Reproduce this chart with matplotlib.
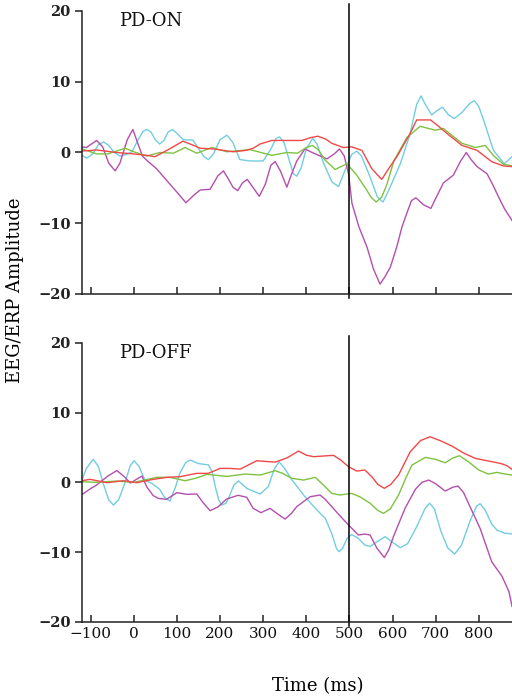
import matplotlib
matplotlib.use('Agg')
import matplotlib.pyplot as plt

plt.rcParams['font.family'] = ['DejaVu Serif']

RED = '#f04848'
GREEN = '#7fc241'
CYAN = '#72cde0'
MAGENTA = '#b44fae'

# ---- PD-ON panel ----
on_red_t = [-120, -86, -40, -1, 30, 49, 80, 114, 135, 154, 185, 231, 260, 277, 293, 320, 390, 410, 427,
            445, 459, 486, 505, 529, 552, 575, 592, 610, 641, 656, 688, 705, 722, 761, 796, 830, 857, 877]
on_red_v = [0.2, 0.35, 0.0, -0.2, -0.4, -0.6, 0.4, 1.6, 1.1, 0.6, 0.5, 0.1, 0.3, 0.6, 1.2, 1.7, 1.7, 2.1, 2.3,
            1.9, 1.3, 0.7, 0.8, 0.3, -2.3, -3.8, -2.2, -0.6, 2.7, 4.6, 4.6, 3.8, 2.9, 1.0, 0.3, -1.3, -1.9, -2.0]

on_green_t = [-120, -105, -86, -60, -35, -20, 0, 30, 61, 92, 119, 146, 181, 216, 270, 320, 355, 380, 400,
              414, 428, 444, 467, 494, 517, 537, 550, 562, 575, 587, 603, 633, 664, 699, 718, 740, 761, 792,
              815, 835, 857, 877]
on_green_v = [0.5, 0.2, -0.2, -0.2, 0.3, 0.6, 0.1, -0.5, 0.0, -0.1, 0.7, -0.1, 0.7, 0.1, 0.4, -0.4, 0.0, -0.1, 0.7,
              1.0, 0.4, -1.1, -2.4, -1.6, -3.2, -5.0, -6.3, -7.0, -6.3, -4.5, -1.2, 2.1, 3.7, 3.15, 3.4, 2.3, 1.3, 0.7,
              1.0, -0.5, -1.65, -1.9]

on_cyan_t = [-120, -109, -95, -82, -70, -58, -45, -32, -18, -4, 10, 22, 30, 40, 50, 60, 70, 80, 90, 102, 115,
             137, 150, 163, 173, 185, 200, 216, 230, 246, 270, 300, 318, 330, 338, 348, 360, 370, 378, 388, 400,
             415, 425, 440, 460, 475, 490, 505, 517, 528, 545, 565, 578, 590, 618, 640, 656, 666, 676, 691, 703,
             716, 730, 743, 760, 780, 790, 800, 811, 834, 859, 877]
on_cyan_v = [-0.4, -0.8, -0.2, 1.1, 1.5, 1.0, 0.0, -0.5, -0.3, 0.1, 1.8, 3.0, 3.25, 2.9, 1.8, 1.2, 1.7, 2.9, 3.25,
             2.6, 1.8, 1.75, 0.6, -0.6, -1.0, -0.2, 1.8, 2.45, 1.4, -1.0, -1.2, -1.2, 0.5, 2.0, 2.2, 1.5, -1.0,
             -3.0, -3.35, -2.2, 0.5, 2.0, 1.2, -1.5, -4.2, -4.8, -2.5, -0.3, 0.2, -0.5, -3.0, -6.3, -7.0, -5.5,
             -1.6, 2.5, 6.8, 8.0, 6.8, 5.3, 5.9, 6.4, 5.3, 4.8, 5.6, 7.0, 7.3, 6.5, 4.6, 0.3, -1.6, -0.6]

on_mag_t = [-120, -110, -86, -72, -58, -43, -32, -15, -2, 10, 20, 30, 53, 80, 100, 121, 140, 154, 177, 195,
            208, 218, 230, 241, 252, 263, 275, 291, 305, 318, 328, 340, 355, 365, 378, 397, 417, 448, 465, 477,
            488, 498, 506, 522, 541, 556, 571, 582, 595, 610, 622, 633, 644, 654, 672, 689, 700, 718, 741, 758,
            771, 782, 796, 819, 832, 846, 860, 877]
on_mag_v = [0.8, 0.7, 1.7, 0.8, -1.5, -2.6, -1.5, 1.8, 3.25, 1.2, -0.5, -1.1, -2.3, -4.2, -5.6, -7.1, -6.0, -5.3,
            -5.2, -3.3, -2.6, -3.6, -4.9, -5.4, -4.3, -3.8, -4.8, -6.2, -4.5, -1.8, -1.3, -2.6, -4.9, -3.2, -1.2,
            0.5, -0.1, -0.9, -0.2, 0.5, -0.5, -3.0, -7.2, -10.5, -13.4, -16.5, -18.6, -17.6, -16.2, -13.3, -10.5,
            -8.6, -6.8, -6.4, -7.4, -7.9, -6.5, -4.3, -3.2, -1.2, 0.0, -1.0, -2.0, -3.0, -4.5, -6.3, -8.0, -9.6]

# ---- PD-OFF panel ----
off_red_t = [-121, -101, -62, -24, 7, 45, 77, 107, 146, 173, 200, 223, 247, 285, 328, 355, 382, 400, 417, 463,
             480, 498, 517, 536, 552, 566, 581, 596, 614, 641, 665, 687, 710, 738, 765, 792, 850, 865, 877]
off_red_v = [0.23, 0.43, -0.05, 0.23, -0.05, 0.43, 0.72, 0.81, 1.29, 1.29, 2.0, 2.0, 1.9, 3.1, 2.9, 3.5, 4.49, 3.9,
             3.68, 3.88, 3.2, 2.24, 1.62, 1.77, 0.81, -0.3, -0.86, -0.3, 1.05, 4.39, 6.0, 6.54, 6.0, 5.2, 4.2, 3.44,
             2.72, 2.4, 1.86]

off_green_t = [-121, -86, -39, 1, 30, 53, 84, 119, 145, 169, 216, 258, 293, 328, 345, 367, 394, 421, 440, 459,
               478, 505, 525, 548, 565, 579, 595, 614, 630, 645, 676, 700, 722, 740, 755, 775, 800, 822, 842,
               860, 877]
off_green_v = [0.09, 0.0, 0.19, 0.0, 0.4, 0.72, 0.72, 0.23, 0.6, 1.15, 0.85, 1.19, 1.05, 1.67, 1.3, 0.57, 0.33,
               0.72, -0.4, -1.58, -1.82, -1.58, -2.1, -3.0, -4.0, -4.45, -3.8, -1.82, 0.5, 2.48, 3.58, 3.3, 2.81,
               3.5, 3.82, 3.0, 1.77, 1.19, 1.43, 1.2, 1.05]

off_cyan_t = [-121, -110, -94, -82, -70, -58, -47, -35, -20, -8, 1, 12, 26, 42, 60, 72, 84, 96, 107, 120, 131,
              142, 150, 173, 182, 189, 197, 204, 214, 223, 232, 243, 262, 293, 312, 325, 337, 350, 367, 397, 421,
              444, 460, 470, 476, 484, 495, 505, 520, 536, 548, 562, 583, 600, 618, 635, 655, 675, 686, 697, 712,
              728, 744, 760, 780, 795, 803, 815, 830, 842, 860, 877]
off_cyan_v = [0.1, 2.0, 3.3, 2.3, -0.3, -2.5, -3.26, -2.5, 0.0, 2.4, 3.1, 2.3, 0.33, -0.14, -1.0, -2.2, -2.7,
              -0.8, 1.3, 2.8, 3.2, 2.9, 2.7, 2.5, 1.5, -0.6, -2.5, -3.26, -3.0, -1.8, -0.4, 0.2, -0.86, -1.68,
              -0.62, 1.8, 2.96, 2.0, 0.33, -2.06, -3.73, -5.17, -7.5, -9.5, -9.95, -9.5, -8.0, -7.5, -8.0, -9.0,
              -9.2, -8.6, -7.8, -8.6, -9.38, -8.8, -6.5, -3.8, -3.0, -3.8, -7.0, -9.4, -10.3, -9.0, -5.5, -3.4,
              -3.06, -4.0, -6.0, -6.84, -7.3, -7.4]

off_mag_t = [-121, -100, -86, -60, -39, -20, -8, 19, 30, 45, 57, 76, 100, 123, 146, 162, 177, 196, 215, 242,
             262, 277, 295, 316, 335, 351, 365, 378, 409, 432, 444, 475, 498, 521, 536, 548, 564, 581, 592, 602,
             629, 653, 668, 684, 700, 722, 740, 752, 765, 776, 803, 830, 854, 870, 877]
off_mag_v = [-1.8, -0.9, -0.38, 0.9, 1.7, 0.7, -0.1, 0.9, -0.62, -1.9, -2.3, -2.44, -1.48, -1.72, -1.67, -3.0,
             -4.07, -3.5, -2.4, -1.86, -2.15, -3.73, -4.35, -3.73, -4.6, -5.27, -4.5, -3.49, -2.06, -1.82, -2.44,
             -4.59, -6.13, -7.56, -7.42, -7.56, -9.47, -10.8, -9.6, -7.8, -3.73, -1.0, 0.0, 0.33, -0.2, -1.25,
             -0.7, -0.53, -1.5, -3.0, -6.6, -11.4, -13.5, -15.7, -17.8]

x_ticks = [-100, 0, 100, 200, 300, 400, 500, 600, 700, 800]
y_ticks = [-20, -10, 0, 10, 20]

fig = plt.figure(figsize=(5.12, 6.99), dpi=100)
ax1 = fig.add_axes([0.1596, 0.5794, 0.8404, 0.4049])
ax2 = fig.add_axes([0.1596, 0.1106, 0.8404, 0.3987])

panels = [
    (ax1, 'PD-ON', on_cyan_t, on_cyan_v, on_mag_t, on_mag_v, on_green_t, on_green_v, on_red_t, on_red_v),
    (ax2, 'PD-OFF', off_cyan_t, off_cyan_v, off_mag_t, off_mag_v, off_green_t, off_green_v, off_red_t, off_red_v),
]

for ax, name, ct, cv, mt, mv, gt, gv, rt, rv in panels:
    ax.plot(ct, cv, color=CYAN, lw=1.0)
    ax.plot(mt, mv, color=MAGENTA, lw=1.0)
    ax.plot(gt, gv, color=GREEN, lw=1.0)
    ax.plot(rt, rv, color=RED, lw=1.0)
    ax.axvline(500, ymin=-0.014, ymax=1.025, color='black', lw=1.1, clip_on=False)
    ax.set_xlim(-120.6, 877)
    ax.set_ylim(-20, 20)
    ax.set_xticks(x_ticks)
    ax.set_yticks(y_ticks)
    ax.spines['top'].set_visible(False)
    ax.spines['right'].set_visible(False)
    ax.spines['left'].set_linewidth(1.1)
    ax.spines['bottom'].set_linewidth(1.1)
    ax.spines['left'].set_color('#222222')
    ax.spines['bottom'].set_color('#222222')
    ax.tick_params(axis='x', direction='in', length=5, width=1.1, colors='#222222', labelsize=11, pad=4)
    ax.tick_params(axis='y', direction='out', length=5, width=1.1, colors='#222222', labelsize=10.5, pad=3)
    for lab in ax.get_yticklabels():
        lab.set_fontweight('bold')
    ax.text(-33, 18.6, name, fontsize=13, va='center', ha='left', color='#111111')

ax1.tick_params(axis='x', labelbottom=False)
for lab in ax2.get_xticklabels():
    lab.set_color('#111111')

fig.text(0.03, 0.585, 'EEG/ERP Amplitude', rotation=90, va='center', ha='center', fontsize=13)
fig.text(0.62, 0.019, 'Time (ms)', va='center', ha='center', fontsize=13)

fig.savefig('out.png', dpi=100)
